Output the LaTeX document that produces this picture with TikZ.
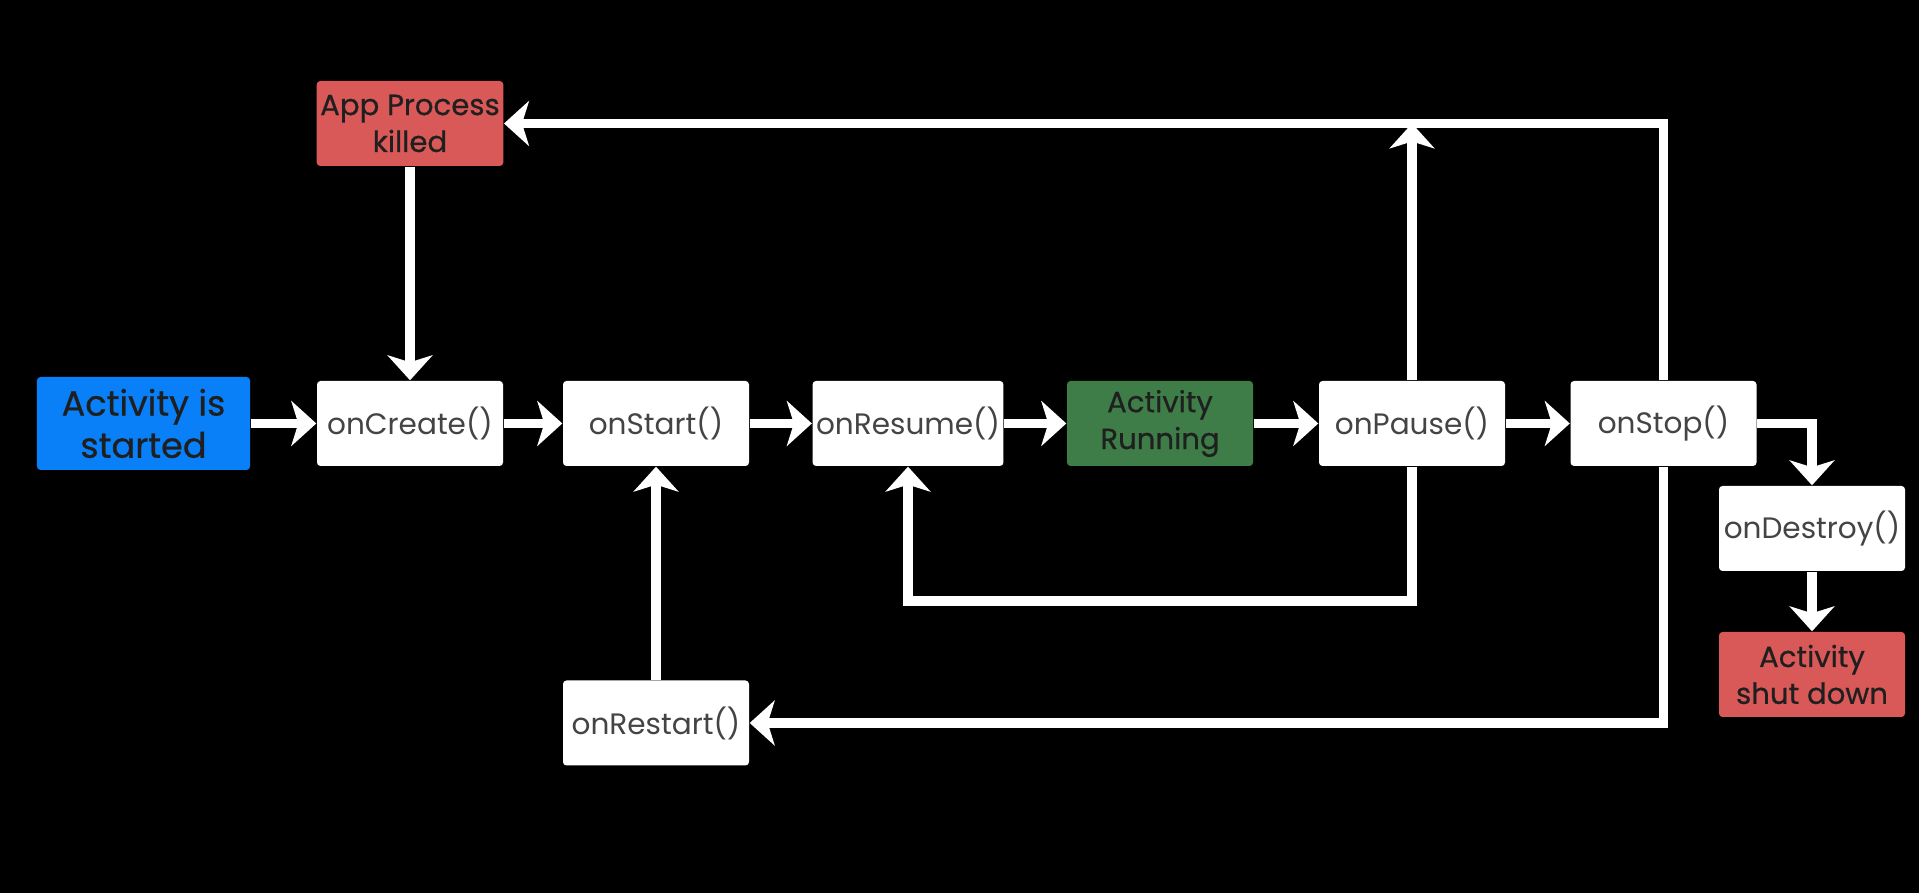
\documentclass[tikz,border=0pt]{standalone}
\usepackage{fontspec}
\setmainfont{Poppins}
\newfontfamily\medfont[FakeBold=0.6]{Poppins}
\usetikzlibrary{arrows.meta}
\definecolor{startblue}{HTML}{0A80F8}
\definecolor{killred}{HTML}{D95858}
\definecolor{rungreen}{HTML}{3E7D48}
\definecolor{boxtext}{HTML}{444444}
\tikzset{cb/.style={fill=white,text=boxtext,rectangle,rounded corners=1pt,minimum width=1.86cm,minimum height=0.85cm,inner sep=1pt,align=center,font=\fontsize{8.4}{10.5}\selectfont}}
\tikzset{st/.style={cb,fill=#1,text=black!88,font=\medfont\fontsize{8.3}{10.5}\selectfont}}
\tikzset{fl/.style={draw=white,line width=2.6pt,-{Stealth[length=0.25cm,width=0.45cm,inset=0.07cm]}}}

\begin{document}
\begin{tikzpicture}
        \fill[black] (0,0) rectangle (19.19,8.93);
        \useasboundingbox (0,0) rectangle (19.19,8.93);

        \node[st=startblue,minimum width=2.13cm,minimum height=0.93cm,font=\medfont\fontsize{10}{12}\selectfont] (started) at (1.435,4.695) {Activity is\\started};
        \node[cb] (oncreate) at (4.10,4.695) {onCreate()};
        \node[cb] (onstart) at (6.56,4.695) {onStart()};
        \node[cb] (onresume) at (9.08,4.695) {onResume()};
        \node[st=rungreen] (running) at (11.60,4.695) {Activity\\Running};
        \node[cb] (onpause) at (14.12,4.695) {onPause()};
        \node[cb] (onstop) at (16.635,4.695) {onStop()};
        \node[cb] (ondestroy) at (18.12,3.645) {onDestroy()};
        \node[st=killred] (shutdown) at (18.12,2.185) {Activity\\shut down};
        \node[cb] (onrestart) at (6.56,1.70) {onRestart()};
        \node[st=killred] (killed) at (4.10,7.695) {App Process\\killed};
        \coordinate (pausetop) at (onpause |- killed);
        \coordinate (pausebot) at (14.12,2.92);

        \draw[fl] (started) -- (oncreate);
        \draw[fl] (oncreate) -- (onstart);
        \draw[fl] (onstart) -- (onresume);
        \draw[fl] (onresume) -- (running);
        \draw[fl] (running) -- (onpause);
        \draw[fl] (onpause) -- (onstop);
        \draw[fl] (killed) -- (oncreate);
        \draw[fl] (onstop) |- (killed);
        \draw[fl] (onpause) -- (pausetop);
        \draw[fl] (onpause) -- (pausebot) -| (onresume);
        \draw[fl] (onstop) |- (onrestart);
        \draw[fl] (onrestart) -- (onstart);
        \draw[fl] (onstop) -| (ondestroy);
        \draw[fl] (ondestroy) -- (shutdown);
\end{tikzpicture}
\end{document}
